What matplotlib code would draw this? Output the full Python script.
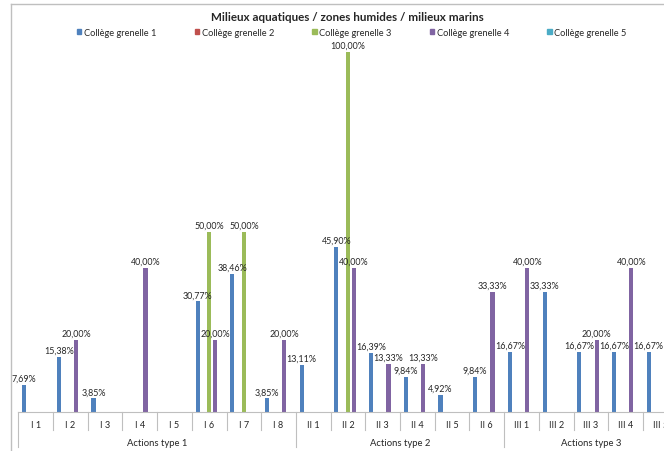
import matplotlib
matplotlib.use("Agg")
import matplotlib.pyplot as plt
import matplotlib.transforms as mtransforms
from matplotlib.patches import Patch
from matplotlib.lines import Line2D
import numpy as np

plt.rcParams['font.family'] = ['Lato', 'DejaVu Sans']

title = "Milieux aquatiques / zones humides / milieux marins"
categories = ["I 1", "I 2", "I 3", "I 4", "I 5", "I 6", "I 7", "I 8",
              "II 1", "II 2", "II 3", "II 4", "II 5", "II 6",
              "III 1", "III 2", "III 3", "III 4", "III 5"]
groups = ["Actions type 1", "Actions type 2", "Actions type 3"]
group_sizes = [8, 6, 5]
series_names = ["Collège grenelle 1", "Collège grenelle 2", "Collège grenelle 3",
                "Collège grenelle 4", "Collège grenelle 5"]

# values in %, 0 = no bar
college_1 = [7.69, 15.38, 3.85, 0, 0, 30.77, 38.46, 3.85,
             13.11, 45.90, 16.39, 9.84, 4.92, 9.84,
             16.67, 33.33, 16.67, 16.67, 16.67]
college_2 = [0] * 19
college_3 = [0, 0, 0, 0, 0, 50.00, 50.00, 0,
             0, 100.00, 0, 0, 0, 0,
             0, 0, 0, 0, 0]
college_4 = [0, 20.00, 0, 40.00, 0, 20.00, 0, 20.00,
             0, 40.00, 13.33, 13.33, 0, 33.33,
             40.00, 0, 20.00, 40.00, 0]
college_5 = [0] * 19

colors = ["#4F81BD", "#C0504D", "#9BBB59", "#8064A2", "#4BACC6"]
text_col = "#262626"
line_col = "#BFBFBF"

W, H = 664, 452
fig = plt.figure(figsize=(W / 100, H / 100), dpi=100)
# plot area is wider than the picture: the last category is cut off like in the source
base_y = 413.3
top_y = 52.7
cat_w = 34.7
ax = fig.add_axes([18.3 / W, (H - base_y) / H, 19 * cat_w / W, (base_y - top_y) / H])
ax_h = base_y - top_y

x = np.arange(len(categories))
all_series = [college_1, college_2, college_3, college_4, college_5]
step = 1 / 6
bw = 0.12
for s, vals in enumerate(all_series):
    xs = x + (s - 2) * step
    v = np.array(vals) / 100
    ax.bar(xs, v, width=bw, color=colors[s], zorder=2)
    for xi, vi in zip(xs, vals):
        if vi > 0:
            ax.annotate(("%.2f%%" % vi).replace(".", ","), (xi, vi / 100),
                        xytext=(0, 1.5), textcoords="offset points",
                        ha="center", va="bottom", fontsize=6.4, color=text_col)

ax.set_xlim(-0.5, len(categories) - 0.5)
ax.set_ylim(0, 1)
for sp in ["top", "right", "left"]:
    ax.spines[sp].set_visible(False)
ax.spines["bottom"].set_color(line_col)
ax.set_yticks([])
ax.set_xticks([])

trans = mtransforms.blended_transform_factory(ax.transData, ax.transAxes)
group_edges = np.cumsum([0] + group_sizes) - 0.5
for k in range(len(categories) + 1):
    b = k - 0.5
    low = -35 / ax_h if b in group_edges else -18 / ax_h
    ax.plot([b, b], [0, low], transform=trans, color=line_col, lw=0.8, clip_on=False)
for i, c in enumerate(categories):
    ax.text(i, -12 / ax_h, c, transform=trans, ha="center", va="center",
            fontsize=6.6, color=text_col)
for g, (a, b) in enumerate(zip(group_edges[:-1], group_edges[1:])):
    ax.text((a + b) / 2, -30 / ax_h, groups[g], transform=trans, ha="center", va="center",
            fontsize=6.8, color=text_col)

# chart frame
fig.add_artist(Line2D([11 / W, 11 / W], [0, 1 - 4.7 / H], color=line_col, lw=1))
fig.add_artist(Line2D([11 / W, 1], [1 - 4.7 / H, 1 - 4.7 / H], color=line_col, lw=1))

fig.text(347 / W, 1 - 17.5 / H, title, ha="center", va="center",
         fontsize=8.4, fontweight="bold", color=text_col)

handles = [Patch(color=c) for c in colors]
fig.legend(handles, series_names, loc="center", bbox_to_anchor=(352 / W, 1 - 33 / H),
           ncol=5, frameon=False, fontsize=6.7, handlelength=0.45, handleheight=0.45,
           handletextpad=0.3, columnspacing=4.1, labelcolor=text_col)

fig.savefig("out.png", dpi=100)
